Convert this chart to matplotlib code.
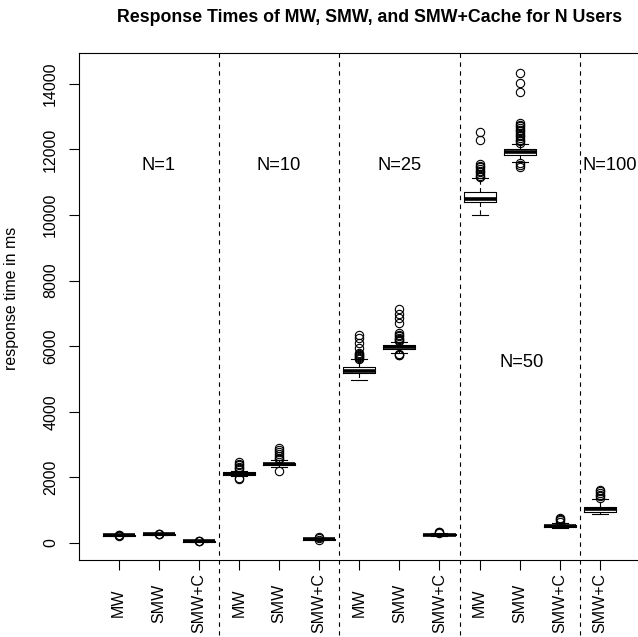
import numpy as np
import matplotlib
matplotlib.use("Agg")
import matplotlib.pyplot as plt

plt.rcParams["font.family"] = ["Liberation Sans", "DejaVu Sans"]

# box order along the x axis
tick_labels = ["MW", "SMW", "SMW+C", "MW", "SMW", "SMW+C", "MW", "SMW", "SMW+C",
               "MW", "SMW", "SMW+C", "SMW+C"]

# five-number summaries (ms)
medians = [230, 265, 50, 2110, 2410, 110, 5240, 5975, 250, 10490, 11910, 520, 1030]
q1s = [220, 255, 42, 2075, 2380, 95, 5180, 5920, 235, 10400, 11830, 490, 950]
q3s = [240, 275, 58, 2150, 2450, 125, 5360, 6030, 265, 10700, 12000, 555, 1100]
whis_lo = [205, 240, 30, 2030, 2330, 75, 4970, 5800, 215, 10000, 11630, 450, 880]
whis_hi = [255, 290, 70, 2200, 2530, 150, 5600, 6140, 290, 11130, 12170, 620, 1350]
outliers = [
    [245, 235, 225],
    [280, 270, 260],
    [60, 55, 45],
    [2250, 2290, 2330, 2380, 2420, 2460, 1990, 1960],
    [2570, 2600, 2640, 2700, 2760, 2830, 2880, 2200],
    [160, 170, 100],
    [5620, 5650, 5680, 5710, 5740, 5770, 5800, 5950, 6100, 6240, 6330],
    [6160, 6190, 6220, 6260, 6300, 6350, 6400, 6700, 6850, 6990, 7130, 5760, 5740, 5720],
    [300, 320, 340],
    [11160, 11200, 11250, 11300, 11350, 11400, 11450, 11500, 11550, 12290, 12530],
    [12200, 12250, 12300, 12350, 12400, 12450, 12500, 12550, 12600, 12650, 12700,
     12750, 12800, 13740, 14020, 14330, 11590, 11520, 11450],
    [650, 690, 730, 770],
    [1380, 1420, 1470, 1520, 1570, 1610],
]

group_sep = [3.5, 6.5, 9.5, 12.5]
group_names = ["N=1", "N=10", "N=25", "N=50", "N=100"]
group_x = [2, 5, 8, 11.05, 13.25]
group_y = [11500, 11500, 11500, 5500, 11500]

W, H = 638, 637
fig = plt.figure(figsize=(W / 100, H / 100), dpi=100)
ax = fig.add_axes([79 / W, (H - 560) / H, (660 - 79) / W, (560 - 53) / H])

stats = []
for i in range(len(medians)):
    stats.append(dict(med=medians[i], q1=q1s[i], q3=q3s[i],
                      whislo=whis_lo[i], whishi=whis_hi[i], fliers=outliers[i]))

pos = np.arange(1, len(medians) + 1)
ax.bxp(stats, positions=pos, widths=0.8, showfliers=True,
       boxprops=dict(color="black", linewidth=0.8),
       medianprops=dict(color="black", linewidth=2.6, solid_capstyle="butt"),
       whiskerprops=dict(color="black", linewidth=0.8, linestyle=(0, (4, 3))),
       capprops=dict(color="black", linewidth=0.8),
       capwidths=0.4,
       flierprops=dict(marker="o", markerfacecolor="none", markeredgecolor="black",
                       markersize=6, markeredgewidth=0.8))

ax.set_xlim(0.01, 14.5)
ax.set_ylim(-520, 14940)

for x in group_sep:
    ax.plot([x, x], [14940, -2800], color="black", linewidth=0.8,
            linestyle=(0, (4, 4)), clip_on=False)

fs = 11.5
for name, x, y in zip(group_names, group_x, group_y):
    ax.text(x, y, name, ha="center", va="center", fontsize=13.2)

ax.set_xticks(pos)
ax.set_xticklabels(tick_labels, rotation=90, va="center", fontsize=fs)
ax.set_yticks(np.arange(0, 14001, 2000))
ax.set_yticklabels([str(v) for v in range(0, 14001, 2000)], rotation=90,
                   va="center", fontsize=fs)
ax.tick_params(axis="x", length=7, width=0.8, pad=24)
ax.tick_params(axis="y", length=7, width=0.8, pad=8)
for s in ax.spines.values():
    s.set_linewidth(0.8)

fig.text(12 / W, 1 - 298 / H, "response time in ms", rotation=90,
         ha="center", va="center", fontsize=fs)
fig.text(369.5 / W, 1 - 18 / H, "Response Times of MW, SMW, and SMW+Cache for N Users",
         ha="center", va="center", fontsize=12.8, fontweight="bold")

fig.savefig("out.png", dpi=100)
